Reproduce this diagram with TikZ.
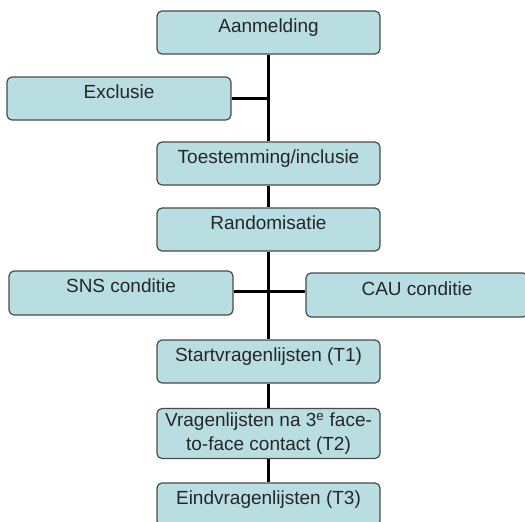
\documentclass[tikz,border=0pt]{standalone}
\usepackage{fontspec}
\setmainfont{Liberation Sans}
\definecolor{boxfill}{HTML}{B9DEE2}
\definecolor{boxline}{HTML}{4A4A4A}
\definecolor{txt}{HTML}{262626}
\begin{document}
\begin{tikzpicture}[x=1pt,y=-1pt,
  boxbase/.style={draw=boxline, line width=1.2pt, fill=boxfill, rounded corners=5pt,
    inner sep=0pt, text=txt, font=\fontsize{19}{24}\selectfont,
    minimum width=223pt, minimum height=43pt},
  box/.style={boxbase, text height=21pt, text depth=22pt},
  link/.style={line width=3pt, black}]
\useasboundingbox (0,0) rectangle (525,522);
\clip (0,0) rectangle (525,522);
\fill[white] (0,0) rectangle (525,522);

\node[box] (aan) at (268.5,32.5) {Aanmelding};
\node[box, minimum width=224pt] (excl) at (119,98.5) {Exclusie};
\node[box] (toe) at (268.5,163.5) {Toestemming/inclusie};
\node[box] (rand) at (268.5,229.5) {Randomisatie};
\node[box, minimum width=224pt, minimum height=44pt, text depth=23pt] (sns) at (121,293) {SNS conditie};
\node[box, minimum width=222pt, minimum height=44pt, text height=22pt, text depth=22pt] (cau) at (417,295) {CAU conditie};
\node[box] (start) at (268.5,361.5) {Startvragenlijsten (T1)};
\node[boxbase, minimum height=50pt, align=center] (t2) at (268.5,433.5)
  {Vragenlijsten na 3\textsuperscript{e} face-\\to-face contact (T2)};
\node[box] (eind) at (268.5,504.5) {Eindvragenlijsten (T3)};

\coordinate (j2) at (268.5,291);
\draw[link] (aan.south) -- (toe.north);
\draw[link] (excl.east) -- (excl.east -| aan.south);
\draw[link] (toe.south) -- (rand.north);
\draw[link] (rand.south) -- (start.north);
\draw[link] (sns.east |- j2) -- (cau.west |- j2);
\draw[link] (start.south) -- (t2.north);
\draw[link] (t2.south) -- (eind.north);
\end{tikzpicture}
\end{document}
